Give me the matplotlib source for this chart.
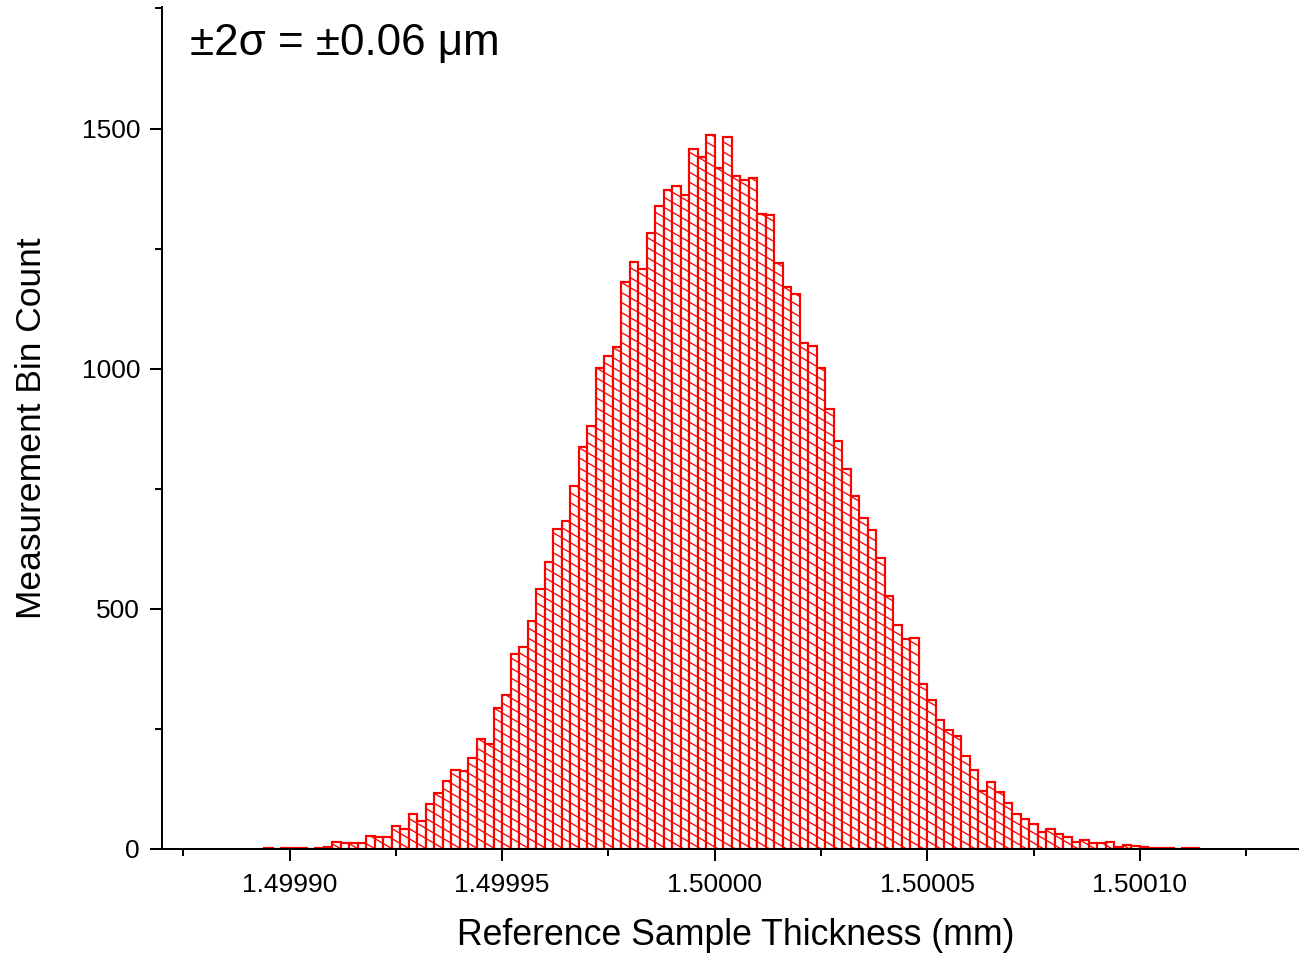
import numpy as np
import matplotlib
matplotlib.use("Agg")
import matplotlib.pyplot as plt
import matplotlib.hatch as mhatch
from matplotlib.path import Path
from matplotlib.ticker import MultipleLocator, FixedLocator, FormatStrFormatter

# ---- data ----
bin_start = 1.499894      # left edge of first bin (mm)
bin_width = 0.000002      # bin width (mm)
counts = [
    2, 0, 2, 2, 2, 1, 3, 4, 14, 13,
    13, 13, 27, 26, 25, 48, 41, 73, 59, 93,
    116, 142, 164, 163, 189, 228, 218, 294, 320, 406,
    421, 475, 542, 597, 666, 683, 755, 837, 880, 1002,
    1027, 1046, 1181, 1222, 1207, 1283, 1339, 1372, 1380, 1361,
    1457, 1440, 1486, 1417, 1483, 1402, 1393, 1398, 1322, 1319,
    1221, 1170, 1155, 1053, 1048, 1001, 917, 849, 792, 735,
    689, 665, 605, 527, 467, 437, 440, 343, 310, 268,
    248, 235, 194, 164, 121, 139, 119, 95, 72, 62,
    53, 36, 41, 31, 24, 15, 19, 13, 13, 14,
    5, 8, 7, 5, 2, 2, 2, 0, 2, 2,
]
x_ticks = [1.49990, 1.49995, 1.50000, 1.50005, 1.50010]
y_ticks = [0, 500, 1000, 1500]
x_label = "Reference Sample Thickness (mm)"
y_label = "Measurement Bin Count"
note = "\u00b12\u03c3 = \u00b10.06 \u03bcm"

# shallower back-slash hatch (slope ~0.58) like the reference
_SLOPE_STEPS = 7


def _sw_init(self, hatch, density):
    self.num_lines = int(hatch.count('\\') * density)
    if self.num_lines:
        self.num_vertices = (self.num_lines + _SLOPE_STEPS + 1) * 2
    else:
        self.num_vertices = 0


def _sw_set(self, vertices, codes):
    n = self.num_lines
    c = np.arange(n + _SLOPE_STEPS + 1) / n
    vertices[0::2, 0] = 0.0
    vertices[0::2, 1] = c
    vertices[1::2, 0] = 1.0
    vertices[1::2, 1] = c - _SLOPE_STEPS / n
    codes[0::2] = Path.MOVETO
    codes[1::2] = Path.LINETO


for _name in ('SouthEastHatch', 'SouthWestHatch'):
    _cls = getattr(mhatch, _name, None)
    if _cls is None:
        continue
    try:
        _probe = _cls('\\', 6)
        if getattr(_probe, 'num_lines', 0) > 0:
            _cls.__init__ = _sw_init
            _cls.set_vertices_and_codes = _sw_set
    except Exception:
        pass

plt.rcParams['font.family'] = ['Liberation Sans', 'DejaVu Sans']
plt.rcParams['hatch.color'] = 'red'
plt.rcParams['hatch.linewidth'] = 0.8

DPI = 120
W, H = 1299, 953
fig = plt.figure(figsize=(W / DPI, H / DPI), dpi=DPI)
fig.patch.set_facecolor('white')
ax = fig.add_axes([162.0 / W, (H - 849) / H, (1310 - 162.0) / W, (849 - 7) / H])

lefts = bin_start + bin_width * np.arange(len(counts))
ax.bar(lefts, counts, width=bin_width, align='edge', facecolor='white',
       edgecolor='red', linewidth=1.3, hatch='\\\\')

ax.set_xlim(1.49987, 1.50014)
ax.set_ylim(0, 1753)

for s in ('top', 'right'):
    ax.spines[s].set_visible(False)
for s in ('left', 'bottom'):
    ax.spines[s].set_linewidth(1.2)
    ax.spines[s].set_zorder(3)

ax.xaxis.set_major_locator(FixedLocator(x_ticks))
ax.xaxis.set_minor_locator(MultipleLocator(0.000025))
ax.xaxis.set_major_formatter(FormatStrFormatter('%.5f'))
ax.yaxis.set_major_locator(FixedLocator(y_ticks))
ax.yaxis.set_minor_locator(MultipleLocator(250))

ax.tick_params(axis='both', which='major', direction='out', length=7.2, width=1.2,
               labelsize=15.8, colors='black')
ax.tick_params(axis='both', which='minor', direction='out', length=4.0, width=1.2)
ax.tick_params(axis='x', which='major', pad=7)
ax.tick_params(axis='y', which='major', pad=6)

ax.set_xlabel(x_label, fontsize=21.4, labelpad=13)
ax.set_ylabel(y_label, fontsize=21.2, labelpad=20)

fig.text(190 / W, 1 - 55 / H, note, fontsize=26.3, ha='left', va='baseline')

fig.savefig("out.png", dpi=DPI)
